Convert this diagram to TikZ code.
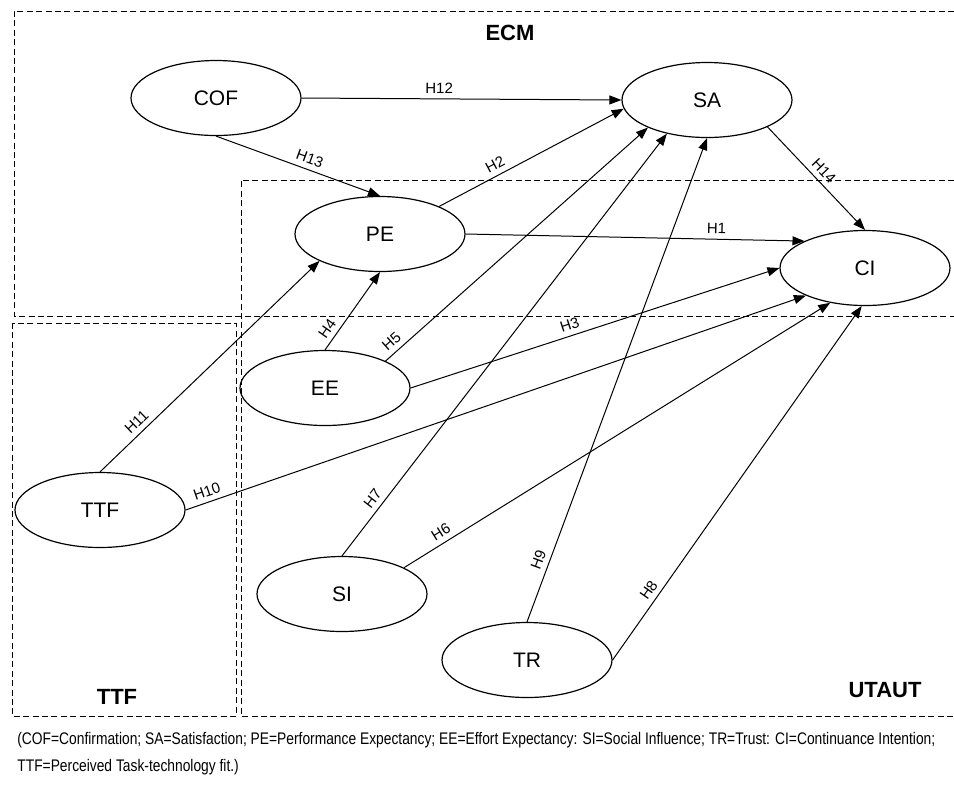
\documentclass[tikz,border=0pt]{standalone}
\usepackage{fontspec}
\setmainfont{Liberation Sans}
\usetikzlibrary{arrows.meta, positioning, shapes.geometric}

\begin{document}
\begin{tikzpicture}[
    x=0.5pt, y=-0.5pt,
    >={Triangle[length=6pt, width=4.5pt]},
    construct/.style={draw, ellipse, line width=0.6pt, minimum width=85pt, minimum height=37.5pt, inner sep=0pt, font=\fontsize{10.5}{12}\selectfont},
    hyp/.style={->, line width=0.5pt},
    hlabel/.style={sloped, above, inner sep=2.5pt, font=\fontsize{7.5}{9}\selectfont},
    group/.style={line width=0.5pt, dash pattern=on 3pt off 1.7pt},
    grouplabel/.style={font=\fontsize{11}{13}\selectfont\bfseries},
    caption/.style={anchor=west, inner sep=0pt, font=\fontsize{8.4}{10}\selectfont},
]
\useasboundingbox (0,0) rectangle (954,784);

% === GROUPS ===
\draw[group] (954,11) -| (14,316) -- (954,316);
\draw[group] (954,180) -| (241,716) -- (954,716);
\draw[group] (12,323) rectangle (236,716);
\node[grouplabel] (ecm) at (510,33) {ECM};
\node[grouplabel] (ttfgroup) at (117,697) {TTF};
\node[grouplabel] (utaut) at (885,690) {UTAUT};

% === CONSTRUCTS ===
\node[construct] (COF) at (216,98) {COF};
\node[construct] (SA) at (707,100) {SA};
\node[construct] (PE) at (380,234) {PE};
\node[construct] (CI) at (865,268) {CI};
\node[construct] (EE) at (325,388) {EE};
\node[construct] (TTF) at (100,510) {TTF};
\node[construct] (SI) at (342,594) {SI};
\node[construct] (TR) at (527,660) {TR};

% === HYPOTHESES ===
\draw[hyp] (PE.east) -- node[hlabel, pos=0.74] {H1} (CI.156);
\draw[hyp] (PE.25) -- node[hlabel, pos=0.33] {H2} (SA.186);
\draw[hyp] (EE.east) -- node[hlabel, pos=0.44] {H3} (CI.west);
\draw[hyp] (EE.north) -- node[hlabel, pos=0.2] {H4} (PE.south);
\draw[hyp] (EE.24) -- node[hlabel, pos=0.05] {H5} (SA.205);
\draw[hyp] (SI.23) -- node[hlabel, pos=0.1] {H6} (CI.225);
\draw[hyp] (SI.north) -- node[hlabel, pos=0.12] {H7} (SA.220);
\draw[hyp] (TR.east) -- node[hlabel, pos=0.18] {H8} (CI.265);
\draw[hyp] (TR.north) -- node[hlabel, pos=0.12] {H9} (SA.south);
\draw[hyp] (TTF.east) -- node[hlabel, pos=0.04] {H10} (CI.205);
\draw[hyp] (TTF.north) -- node[hlabel, pos=0.2] {H11} (PE.204);
\draw[hyp] (COF.east) -- node[hlabel, pos=0.43] {H12} (SA.west);
\draw[hyp] (COF.south) -- node[hlabel, pos=0.55] {H13} (PE.north);
\draw[hyp] (SA.336) -- node[hlabel, pos=0.5] {H14} (CI.north);

% === CAPTION ===
\node[caption] (cap1) at (17,740) {\scalebox{0.822}[1]{(COF=Confirmation; SA=Satisfaction; PE=Performance Expectancy; EE=Effort Expectancy: SI=Social Influence; TR=Trust: CI=Continuance Intention;}};
\node[caption] (cap2) at (17,767) {\scalebox{0.822}[1]{TTF=Perceived Task-technology fit.)}};

\end{tikzpicture}
\end{document}
